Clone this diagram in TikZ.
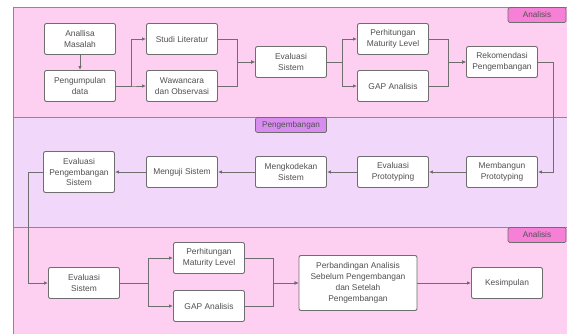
\documentclass[tikz,border=0pt]{standalone}
\usepackage{fontspec}
\setmainfont{Liberation Sans}
\usetikzlibrary{arrows.meta, positioning}
\definecolor{panelpink}{RGB}{253,208,242}
\definecolor{panellilac}{RGB}{241,216,251}
\definecolor{tagpink}{RGB}{246,128,214}
\definecolor{taglilac}{RGB}{216,140,240}
\definecolor{linegray}{RGB}{110,110,110}
\definecolor{textgray}{RGB}{80,80,80}
\tikzset{
    box/.style={
        rectangle,
        rounded corners=2pt,
        draw=linegray,
        line width=0.9pt,
        fill=white,
        align=center,
        minimum width=71pt,
        minimum height=31pt,
        inner sep=1pt,
        text=textgray,
        font=\fontsize{8.4}{10.8}\selectfont
    },
    panel/.style={
        draw=linegray!80,
        line width=0.9pt
    },
    tag/.style={
        rectangle,
        rounded corners=1.5pt,
        draw=linegray,
        line width=0.7pt,
        minimum height=15pt,
        inner sep=1pt,
        text=textgray,
        font=\fontsize{8.2}{9}\selectfont
    },
    arrow/.style={
        -{Latex[length=4pt,width=3.5pt]},
        draw=linegray,
        line width=0.8pt
    }
}

\begin{document}
\begin{tikzpicture}[x=1pt, y=-1pt]
    \useasboundingbox (0,0) rectangle (567,334);

    % Background panels
    \begin{scope}
        \clip (0,0) rectangle (567,334);
        \filldraw[panel, fill=panelpink] (13,7) rectangle (575,117);
        \filldraw[panel, fill=panellilac] (13,117) rectangle (575,227);
        \filldraw[panel, fill=panelpink] (13,227) rectangle (575,345);
    \end{scope}

    % Panel labels
    \node[tag, fill=tagpink, minimum width=58pt] (tag1) at (537,15) {Analisis};
    \node[tag, fill=taglilac, minimum width=71pt] (tag2) at (291,125) {Pengembangan};
    \node[tag, fill=tagpink, minimum width=58pt] (tag3) at (537,235) {Analisis};

    % First analysis phase
    \node[box] (am) at (80,39) {Anallisa\\Masalah};
    \node[box] (pd) at (80,86) {Pengumpulan\\data};
    \node[box] (sl) at (182,39) {Studi Literatur};
    \node[box] (wo) at (182,86) {Wawancara\\dan Observasi};
    \node[box] (es1) at (291,62) {Evaluasi\\Sistem};
    \node[box] (pm1) at (393,39) {Perhitungan\\Maturity Level};
    \node[box] (ga1) at (393,86) {GAP Analisis};
    \node[box] (rp) at (502,62) {Rekomendasi\\Pengembangan};

    % Development phase
    \node[box] (mp) at (502,172) {Membangun\\Prototyping};
    \node[box] (ep) at (393,172) {Evaluasi\\Prototyping};
    \node[box] (ms) at (291,172) {Mengkodekan\\Sistem};
    \node[box] (mj) at (182,172) {Menguji Sistem};
    \node[box, minimum height=41pt] (eps) at (79,172) {Evaluasi\\Pengembangan\\Sistem};

    % Second analysis phase
    \node[box] (es2) at (84,283) {Evaluasi\\Sistem};
    \node[box] (pm2) at (209,258) {Perhitungan\\Maturity Level};
    \node[box] (ga2) at (209,306) {GAP Analisis};
    \node[box, minimum width=118pt, minimum height=55pt] (pb) at (358,283)
        {Perbandingan Analisis\\Sebelum Pengembangan\\dan Setelah\\Pengembangan};
    \node[box] (ks) at (507,283) {Kesimpulan};

    % Connectors
    \draw[arrow] (am) -- (pd);
    \draw[arrow] (pd.east) -- ++(15,0) |- (sl.west);
    \draw[arrow] (pd.east) -- ++(15,0) |- (wo.west);
    \draw[arrow] (sl.east) -- ++(19,0) |- (es1.west);
    \draw[arrow] (wo.east) -- ++(19,0) |- (es1.west);
    \draw[arrow] (es1.east) -- ++(15,0) |- (pm1.west);
    \draw[arrow] (es1.east) -- ++(15,0) |- (ga1.west);
    \draw[arrow] (pm1.east) -- ++(19,0) |- (rp.west);
    \draw[arrow] (ga1.east) -- ++(19,0) |- (rp.west);
    \draw[arrow] (rp.east) -- ++(15,0) |- (mp.east);

    \draw[arrow] (mp) -- (ep);
    \draw[arrow] (ep) -- (ms);
    \draw[arrow] (ms) -- (mj);
    \draw[arrow] (mj) -- (eps);
    \draw[arrow] (eps.west) -- ++(-15,0) |- (es2.west);

    \draw[arrow] (es2.east) -- ++(28,0) |- (pm2.west);
    \draw[arrow] (es2.east) -- ++(28,0) |- (ga2.west);
    \draw[arrow] (pm2.east) -- ++(28,0) |- (pb.west);
    \draw[arrow] (ga2.east) -- ++(28,0) |- (pb.west);
    \draw[arrow] (pb) -- (ks);

\end{tikzpicture}
\end{document}
